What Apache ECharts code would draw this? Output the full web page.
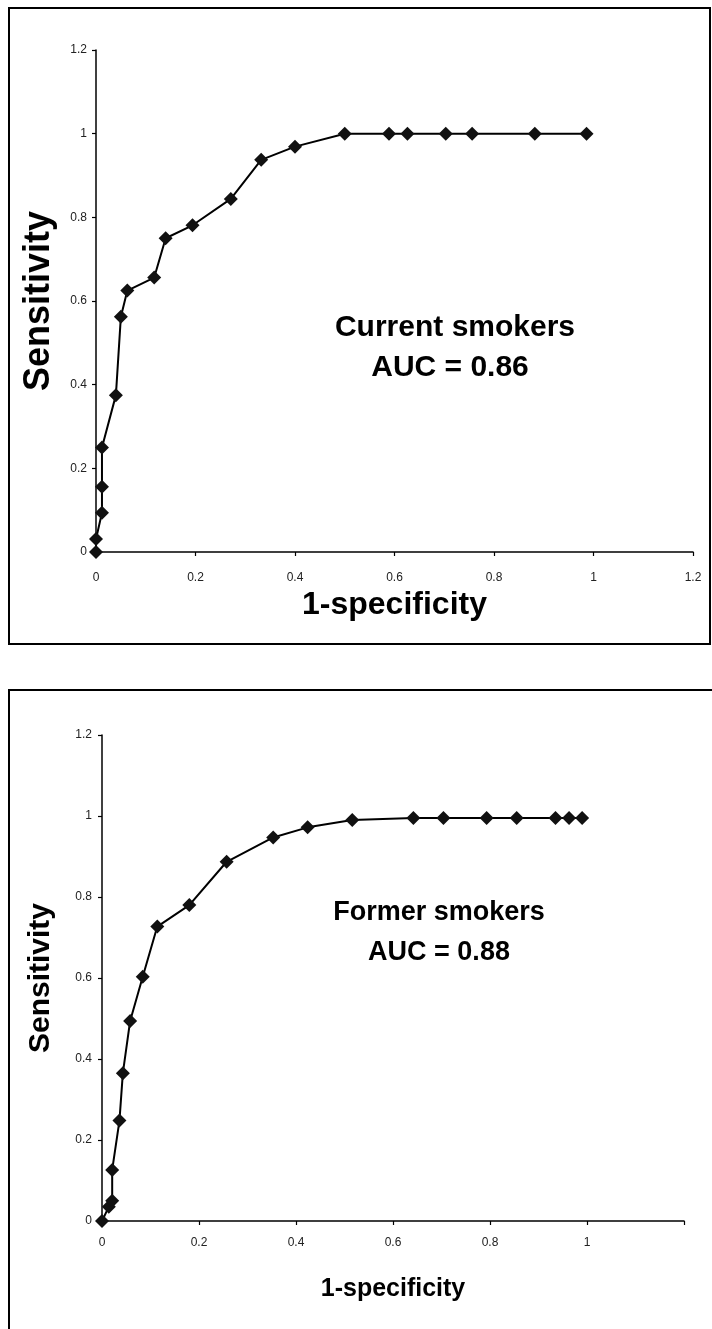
<!DOCTYPE html>
<html>
<head>
<meta charset="utf-8">
<script src="https://cdn.jsdelivr.net/npm/echarts@6/dist/echarts.min.js"></script>
<style>
html,body{margin:0;padding:0;background:#fff;}
#c{width:712px;height:1329px;}
</style>
</head>
<body>
<div id="c"></div>
<script>
// Current smokers ROC
const currentX = [0, 0, 0.012, 0.012, 0.012, 0.04, 0.05, 0.063, 0.117, 0.14, 0.194, 0.271, 0.332, 0.40, 0.5, 0.589, 0.626, 0.703, 0.756, 0.882, 0.986];
const currentY = [0, 0.031, 0.094, 0.156, 0.25, 0.375, 0.5625, 0.625, 0.656, 0.75, 0.781, 0.844, 0.9375, 0.969, 1, 1, 1, 1, 1, 1, 1];
// Former smokers ROC
const formerX = [0, 0.014, 0.021, 0.021, 0.036, 0.043, 0.058, 0.084, 0.114, 0.180, 0.257, 0.353, 0.424, 0.516, 0.642, 0.704, 0.793, 0.855, 0.935, 0.963, 0.990];
const formerY = [0, 0.035, 0.050, 0.126, 0.248, 0.365, 0.494, 0.603, 0.727, 0.780, 0.887, 0.947, 0.972, 0.990, 0.995, 0.995, 0.995, 0.995, 0.995, 0.995, 0.995];
const axisMin = 0, axisMax = 1.2, axisStep = 0.2;
const xTitle = '1-specificity';
const yTitle = 'Sensitivity';
const label1 = ['Current smokers', 'AUC = 0.86'];
const label2 = ['Former smokers', 'AUC = 0.88'];

const pair = (xs, ys) => xs.map((x, i) => [x, ys[i]]);
const FONT = '"Liberation Sans", Arial, sans-serif';

function xAxis(gi, hideMax, gap, nameSize, margin) {
  return {
    type: 'value', gridIndex: gi, min: axisMin, max: axisMax, interval: axisStep,
    name: xTitle, nameLocation: 'middle', nameGap: gap,
    nameTextStyle: {fontFamily: FONT, fontWeight: 'bold', fontSize: nameSize, color: '#000'},
    axisLine: {show: true, lineStyle: {color: '#000', width: 1.5}},
    axisTick: {show: true, length: 4, lineStyle: {color: '#000', width: 1.2}},
    axisLabel: {fontFamily: FONT, fontSize: 12, color: '#222', margin: margin,
      formatter: v => (hideMax && Math.abs(v - axisMax) < 1e-9) ? '' : String(+v.toFixed(1))},
    splitLine: {show: false}
  };
}
function yAxis(gi, gap, nameSize, margin) {
  return {
    type: 'value', gridIndex: gi, min: axisMin, max: axisMax, interval: axisStep,
    name: yTitle, nameLocation: 'middle', nameGap: gap, nameRotate: 90,
    nameTextStyle: {fontFamily: FONT, fontWeight: 'bold', fontSize: nameSize, color: '#000'},
    axisLine: {show: true, lineStyle: {color: '#000', width: 1.5}},
    axisTick: {show: true, length: 4, lineStyle: {color: '#000', width: 1.2}},
    axisLabel: {fontFamily: FONT, fontSize: 12, color: '#222', margin: margin,
      formatter: v => String(+v.toFixed(1))},
    splitLine: {show: false}
  };
}
function series(gi, data) {
  return {
    type: 'line', xAxisIndex: gi, yAxisIndex: gi, data: data,
    symbol: 'diamond', symbolSize: 14, showSymbol: true,
    lineStyle: {color: '#000', width: 2},
    itemStyle: {color: '#111'},
    animation: false, z: 3
  };
}

const chart = echarts.init(document.getElementById('c'), null, {renderer: 'canvas'});
chart.setOption({
  backgroundColor: '#fff',
  animation: false,
  grid: [
    {left: 96, top: 50, width: 597, height: 502},
    {left: 102, top: 735, width: 582, height: 486}
  ],
  xAxis: [xAxis(0, false, 37, 32, 20), xAxis(1, true, 56, 25, 16)],
  yAxis: [yAxis(0, 39, 36, 9), yAxis(1, 46, 30, 10)],
  series: [series(0, pair(currentX, currentY)), series(1, pair(formerX, formerY))],
  graphic: [
    {type: 'rect', shape: {x: 9, y: 8, width: 701, height: 636}, style: {fill: 'none', stroke: '#000', lineWidth: 2}, silent: true},
    {type: 'rect', shape: {x: 9, y: 690, width: 720, height: 700}, style: {fill: 'none', stroke: '#000', lineWidth: 2}, silent: true},
    {type: 'text', x: 455, y: 328, style: {text: label1[0], font: 'bold 30px ' + FONT, fill: '#000', textAlign: 'center', textVerticalAlign: 'middle'}},
    {type: 'text', x: 450, y: 368, style: {text: label1[1], font: 'bold 30px ' + FONT, fill: '#000', textAlign: 'center', textVerticalAlign: 'middle'}},
    {type: 'text', x: 439, y: 913, style: {text: label2[0], font: 'bold 27px ' + FONT, fill: '#000', textAlign: 'center', textVerticalAlign: 'middle'}},
    {type: 'text', x: 439, y: 953, style: {text: label2[1], font: 'bold 27px ' + FONT, fill: '#000', textAlign: 'center', textVerticalAlign: 'middle'}}
  ]
});
</script>
</body>
</html>
